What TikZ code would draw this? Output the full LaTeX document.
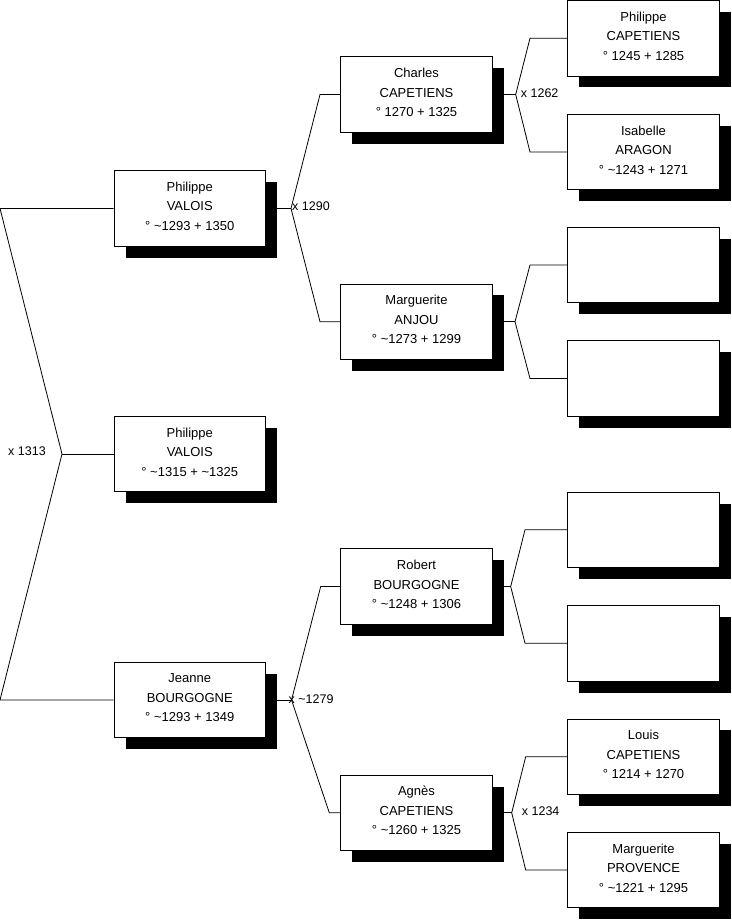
\documentclass[tikz,border=0pt]{standalone}
\usepackage{fontspec}
\setmainfont{Liberation Sans}
\usetikzlibrary{shadows}
\pgfdeclarelayer{bg}
\pgfsetlayers{bg,main}
\newcommand{\threelines}[3]{#1\\#2\\#3\rule[-4.4pt]{0pt}{0pt}}
\begin{document}
\begin{tikzpicture}[x=1pt,y=-1pt,
  person/.style={draw=black, line width=0.8pt, fill=white,
    minimum width=151.5pt, minimum height=75.5pt, inner sep=0pt,
    align=center, font=\fontsize{13pt}{19.5pt}\selectfont,
    drop shadow={shadow xshift=11.5pt, shadow yshift=-11.5pt, fill=black, opacity=1}},
  link/.style={draw=black, line width=0.8pt},
  marr/.style={font=\fontsize{12.5pt}{14pt}\selectfont, inner sep=0pt, anchor=base west}]
\useasboundingbox (0,0) rectangle (731,920);

% generation 1
\node[person] (pv) at (189.75,208.4) {\threelines{Philippe}{VALOIS}{° \char`~1293 + 1350}};
\node[person] (pm) at (189.75,454) {\threelines{Philippe}{VALOIS}{° \char`~1315 + \char`~1325}};
\node[person] (jb) at (189.75,700) {\threelines{Jeanne}{BOURGOGNE}{° \char`~1293 + 1349}};
% generation 2
\node[person] (cc) at (416.5,94.5) {\threelines{Charles}{CAPETIENS}{° 1270 + 1325}};
\node[person] (ma) at (416.5,321.7) {\threelines{Marguerite}{ANJOU}{° \char`~1273 + 1299}};
\node[person] (rb) at (416.5,586.5) {\threelines{Robert}{BOURGOGNE}{° \char`~1248 + 1306}};
\node[person] (ag) at (416.5,812.8) {\threelines{Agnès}{CAPETIENS}{° \char`~1260 + 1325}};
% generation 3
\node[person] (pc) at (643.5,38.2) {\threelines{Philippe}{CAPETIENS}{° 1245 + 1285}};
\node[person] (ia) at (643.5,152) {\threelines{Isabelle}{ARAGON}{° \char`~1243 + 1271}};
\node[person] (e1) at (643.5,265) {};
\node[person] (e2) at (643.5,378.5) {};
\node[person] (e3) at (643.5,529.8) {};
\node[person] (e4) at (643.5,643.3) {};
\node[person] (lc) at (643.5,756.7) {\threelines{Louis}{CAPETIENS}{° 1214 + 1270}};
\node[person] (mp) at (643.5,870) {\threelines{Marguerite}{PROVENCE}{° \char`~1221 + 1295}};

% fork points
\coordinate (r1) at (0,208.4);
\coordinate (r2) at (0,700);
\coordinate (rA) at (62,454);
\coordinate (a1) at (291,208.4);
\coordinate (a1u) at (320,94.5);
\coordinate (a1d) at (320,321.7);
\coordinate (a2) at (291.5,700);
\coordinate (a2u) at (320.7,586.5);
\coordinate (a2d) at (329.3,812.8);
\coordinate (a3) at (515.7,94.5);
\coordinate (a3u) at (530,38.2);
\coordinate (a3d) at (530,152);
\coordinate (a4) at (515,321.7);
\coordinate (a4u) at (530,265);
\coordinate (a4d) at (530,378.5);
\coordinate (a5) at (510.7,586.5);
\coordinate (a5u) at (525,529.8);
\coordinate (a5d) at (525,643.3);
\coordinate (a6) at (511.7,812.8);
\coordinate (a6u) at (525.7,756.7);
\coordinate (a6d) at (525.7,870);

\begin{pgfonlayer}{bg}
\draw[link] (pv.west) -- (r1) -- (rA) -- (r2) -- (jb.west);
\draw[link] (rA) -- (pm.west);
\draw[link] (pv.east) -- (a1);
\draw[link] (cc.west) -- (a1u) -- (a1) -- (a1d) -- (ma.west);
\draw[link] (jb.east) -- (a2);
\draw[link] (rb.west) -- (a2u) -- (a2) -- (a2d) -- (ag.west);
\draw[link] (cc.east) -- (a3);
\draw[link] (pc.west) -- (a3u) -- (a3) -- (a3d) -- (ia.west);
\draw[link] (ma.east) -- (a4);
\draw[link] (e1.west) -- (a4u) -- (a4) -- (a4d) -- (e2.west);
\draw[link] (rb.east) -- (a5);
\draw[link] (e3.west) -- (a5u) -- (a5) -- (a5d) -- (e4.west);
\draw[link] (ag.east) -- (a6);
\draw[link] (lc.west) -- (a6u) -- (a6) -- (a6d) -- (mp.west);
\end{pgfonlayer}

% marriage labels
\node[marr] (m1313) at (8,455.5) {x 1313};
\node[marr] (m1290) at (292,211) {x 1290};
\node[marr] (m1279) at (288.5,703) {x \char`~1279};
\node[marr] (m1262) at (520.7,97.2) {x 1262};
\node[marr] (m1234) at (521.7,815.5) {x 1234};
\end{tikzpicture}
\end{document}
